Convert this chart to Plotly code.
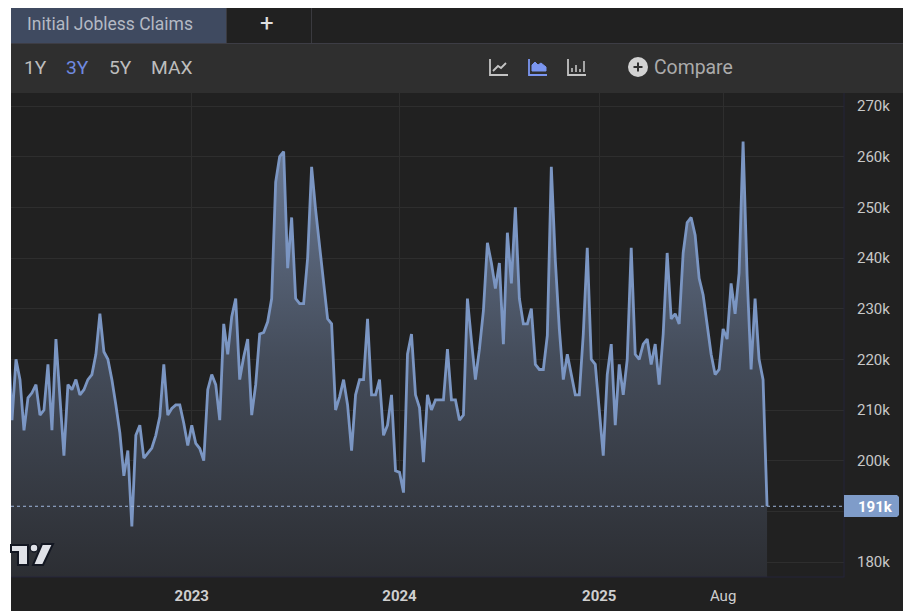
import plotly.graph_objects as go

# Weekly initial jobless claims, thousands, in chart order (one value per bar)
claims_a = [225, 208, 220, 216, 206, 212.4, 213.4, 215, 209, 210, 219, 206, 224, 212, 201, 215, 214, 216, 213, 214,
            216, 217, 221, 229, 221.5, 220, 216, 211, 205.5, 197, 202, 187, 205, 207]
claims_b = [200.5, 201.5, 202.5, 205, 208.7, 219, 209, 210.3, 211, 211, 207.4, 203, 207, 203.4, 202.4, 200, 214, 217,
            215, 208, 227, 221, 228.4, 232, 216, 220.5, 224, 209, 215, 225, 225.3, 227.4]
claims_c = [232, 255, 260, 261, 238, 248, 232, 231, 231, 240, 258, 249.5, 242, 235, 228, 227, 210, 212.6, 216, 211,
            202, 213, 216, 216, 228, 213, 213, 216, 205, 207]
claims_d = [213, 198, 197.7, 193.7, 221, 225, 213, 210.5, 199.7, 213, 210, 212, 212, 212, 222, 212, 212, 208, 209, 232,
            223.7, 216, 222, 229.6, 243, 239, 234, 239, 223, 245, 235, 250]
claims_e = [232, 227, 227, 230, 219, 218, 218, 224.7, 258, 239.5, 226, 216, 221, 217, 213, 213, 225, 242, 220, 219,
            210, 201, 217, 223, 207, 219, 213, 220, 242, 221, 220, 223, 224]
claims_f = [219, 223, 215, 225, 241, 228, 229, 227, 241, 247, 248, 244.5, 236, 232.7, 227, 221, 217, 218, 226, 224,
            235, 229, 237, 263, 236.6, 218, 232, 220, 216, 191]
claims = claims_a + claims_b + claims_c + claims_d + claims_e + claims_f
weeks = list(range(-1, len(claims) - 1))

x_tick_weeks = [45, 97, 147, 178]
x_tick_labels = ["<b>2023</b>", "<b>2024</b>", "<b>2025</b>", "Aug"]
y_ticks = [180, 190, 200, 210, 220, 230, 240, 250, 260, 270]
y_tick_labels = ["180k", "", "200k", "210k", "220k", "230k", "240k", "250k", "260k", "270k"]
range_buttons = ["1Y", "3Y", "5Y", "MAX"]
title = "Initial Jobless Claims"
last_label = "191k"

W, H = 903, 611
L, R, T, B = 11, 844, 93, 577
def px(x): return (x - L) / (R - L)
def py(y): return (B - y) / (B - T)

LINE = "#7b96c3"
shapes, ann = [], []

def rect(x0, y0, x1, y1, fill, layer="below"):
    shapes.append(dict(type="rect", xref="paper", yref="paper", x0=px(x0), x1=px(x1), y0=py(y1), y1=py(y0),
                       fillcolor=fill, line_width=0, layer=layer))

def seg(pts, color, width=2, layer="above", fill=None, close=False):
    d = "M" + " L".join(f"{px(a):.5f},{py(b):.5f}" for a, b in pts) + (" Z" if close else "")
    shapes.append(dict(type="path", xref="paper", yref="paper", path=d, layer=layer,
                       line=dict(color=color, width=width), fillcolor=fill))

def text(x, y, s, size, color, anchor="left"):
    ann.append(dict(xref="paper", yref="paper", x=px(x), y=py(y), text=s, showarrow=False, xanchor=anchor,
                    yanchor="middle", font=dict(family="Roboto", size=size, color=color),
                    borderpad=0, borderwidth=0))

# page panels
rect(L, 8, W, H, "#212121")
rect(L, 44, W, T, "#2f2f2f")
rect(L, 8, 226, 43, "#3f4a60")
rect(226, 8, 227, 43, "#3a3a3f")
rect(311, 8, 312, 43, "#3a3a3f")
rect(L, 43, W, 44, "#3d3d45")

text(27, 24, title, 17.5, "#b4b9c4")
text(266.5, 23.5, "+", 24, "#e0e0e0", "center")
btn_x = [24, 66, 109, 151]
for s, xx in zip(range_buttons, btn_x):
    text(xx, 67.5, s, 19.2, "#6f8ae0" if s == "3Y" else "#bdbdbd")

# chart-type icons
G = "#c4c4c4"; B2 = "#7b96f0"
seg([(490, 59), (490, 75), (508, 75)], G, 1.8)
seg([(493, 71), (498, 66), (501, 68), (506, 63)], G, 1.8)
seg([(529, 59), (529, 75), (547, 75)], B2, 1.8)
seg([(532, 71), (532, 65), (535, 62), (538, 65), (541, 63), (546, 67), (546, 71)], B2, 1, fill=B2, close=True)
seg([(568, 59), (568, 75), (586, 75)], G, 1.8)
for xx, top in zip([572, 576, 580, 584], [68, 65, 69, 61]):
    seg([(xx, top), (xx, 72)], G, 1.6)
# compare button
shapes.append(dict(type="circle", xref="paper", yref="paper", x0=px(628), x1=px(648), y0=py(77), y1=py(57),
                   fillcolor="#d2d2d2", line_width=0, layer="above"))
seg([(633.5, 67), (642.5, 67)], "#2f2f2f", 2)
seg([(638, 62.5), (638, 71.5)], "#2f2f2f", 2)
text(653.5, 67.5, "Compare", 19.4, "#ababab")

# borders of the price and time scales
rect(843.5, T, 844.5, B, "#25253a", "above")
rect(L, 576.5, 844.5, 577.5, "#25253a", "above")

# last value marker
shapes.append(dict(type="line", xref="paper", yref="y", x0=0, x1=1, y0=claims[-1], y1=claims[-1],
                   line=dict(color="#9fb6dc", width=1, dash="dot"), layer="above"))
seg([(844, 495), (897, 495), (899, 497), (899, 515), (897, 517), (844, 517)], "#7f9cc9", 0, fill="#7f9cc9", close=True)
text(875, 506.5, f"<b>{last_label}</b>", 15, "#ffffff", "center")

# logo
seg([(11, 545), (28, 545), (28, 565), (18, 565), (18, 552), (11, 552)], "#131722", 2, fill="#e0e2e8", close=True)
shapes.append(dict(type="circle", xref="paper", yref="paper", x0=px(30), x1=px(38), y0=py(552), y1=py(544),
                   fillcolor="#e0e2e8", line=dict(color="#131722", width=1.5), layer="above"))
seg([(42, 544), (53, 544), (43, 565), (33, 565)], "#131722", 2, fill="#e0e2e8", close=True)

fig = go.Figure(go.Scatter(
    x=weeks, y=claims, mode="lines", line=dict(color=LINE, width=2.8),
    fill="tozeroy",
    fillgradient=dict(type="vertical", start=263, stop=177,
                      colorscale=[[0, "#6a7a95"], [0.5, "#444c5a"], [1, "#2c2e33"]]),
    hoverinfo="skip"))

grid = "#2e2e2e"
fig.update_layout(
    width=W, height=H, autosize=False, showlegend=False,
    margin=dict(l=L, r=W - R, t=T, b=H - B, pad=0, autoexpand=False),
    paper_bgcolor="#ffffff", plot_bgcolor="#212121",
    font=dict(family="Roboto"),
    shapes=shapes, annotations=ann,
    xaxis=dict(range=[-0.25, 208.26], tickvals=x_tick_weeks, ticktext=x_tick_labels, showgrid=True, gridcolor=grid,
               gridwidth=1, zeroline=False, ticks="", showline=False, tickangle=0, ticklabelstandoff=8,
               automargin=False, tickfont=dict(family="Roboto", size=15, color="#cfcfcf")),
    yaxis=dict(range=[177.04, 272.57], side="right", tickvals=y_ticks, ticktext=y_tick_labels, showgrid=True,
               gridcolor=grid, gridwidth=1, zeroline=False, ticks="", showline=False, ticklabelstandoff=12,
               automargin=False, tickfont=dict(family="Roboto", size=15, color="#c8c8c8")),
)
fig.write_html("out.html", config=dict(displayModeBar=False),
               post_script="document.body.style.margin='0';document.documentElement.style.overflow='hidden';")
